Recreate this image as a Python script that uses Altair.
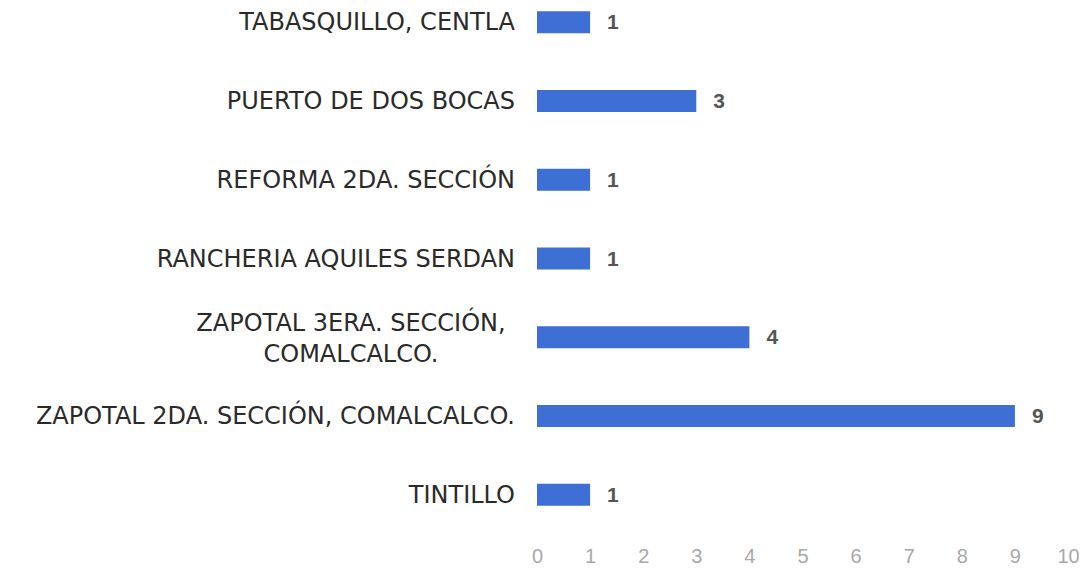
import altair as alt
import pandas as pd

categories = [
    "TABASQUILLO, CENTLA",
    "PUERTO DE DOS BOCAS",
    "REFORMA 2DA. SECCIÓN",
    "RANCHERIA AQUILES SERDAN",
    "ZAPOTAL 3ERA. SECCIÓN,\nCOMALCALCO.",
    "ZAPOTAL 2DA. SECCIÓN, COMALCALCO.",
    "TINTILLO",
]
values = [1, 3, 1, 1, 4, 9, 1]
multiline = [False, False, False, False, True, False, False]
x_ticks = list(range(0, 11))

df = pd.DataFrame({"cat": categories, "val": values, "ml": multiline})

FONT = "Liberation Sans"
LFONT = "DejaVu Sans"
BAR = "#3d6fd4"

y_enc = alt.Y(
    "cat:N",
    sort=categories,
    scale=alt.Scale(paddingInner=0.72, paddingOuter=0.04),
    axis=None,
)
x_enc = alt.X(
    "val:Q",
    scale=alt.Scale(domain=[0, 10]),
    axis=alt.Axis(
        values=x_ticks,
        domain=False,
        ticks=False,
        tickSize=0,
        grid=False,
        labelFlush=False,
        labelPadding=37,
        labelFont=FONT,
        labelFontSize=20,
        labelColor="#a8a8a8",
        title=None,
    ),
)

base = alt.Chart(df)

bars = base.mark_bar(color=BAR).encode(x=x_enc, y=y_enc)

vals = base.mark_text(
    align="left", baseline="middle", dx=17, dy=1, font=FONT, fontSize=21,
    fontWeight="bold", color="#555555",
).encode(x="val:Q", y=alt.Y("cat:N", sort=categories, axis=None), text="val:Q")

lab_single = base.transform_filter("!datum.ml").mark_text(
    align="right", baseline="middle", dy=1, font=LFONT, fontSize=24, color="#2a2a2a",
).encode(x=alt.value(-22), y=alt.Y("cat:N", sort=categories, axis=None), text="cat:N")

lab_multi = base.transform_filter("datum.ml").mark_text(
    align="center", baseline="middle", dy=-13, font=LFONT, fontSize=24, color="#2a2a2a",
    lineBreak="\n", lineHeight=31,
).encode(x=alt.value(-186), y=alt.Y("cat:N", sort=categories, axis=None), text="cat:N")

chart = alt.layer(bars, vals, lab_single, lab_multi).properties(
    width=531,
    height=501,
    background="white",
    autosize=alt.AutoSizeParams(type="none"),
    padding={"left": 529, "top": 0, "right": 11, "bottom": 60},
).configure_view(strokeWidth=0, stroke="transparent")

chart.save("out.html", embed_options={"renderer": "svg", "actions": False})
